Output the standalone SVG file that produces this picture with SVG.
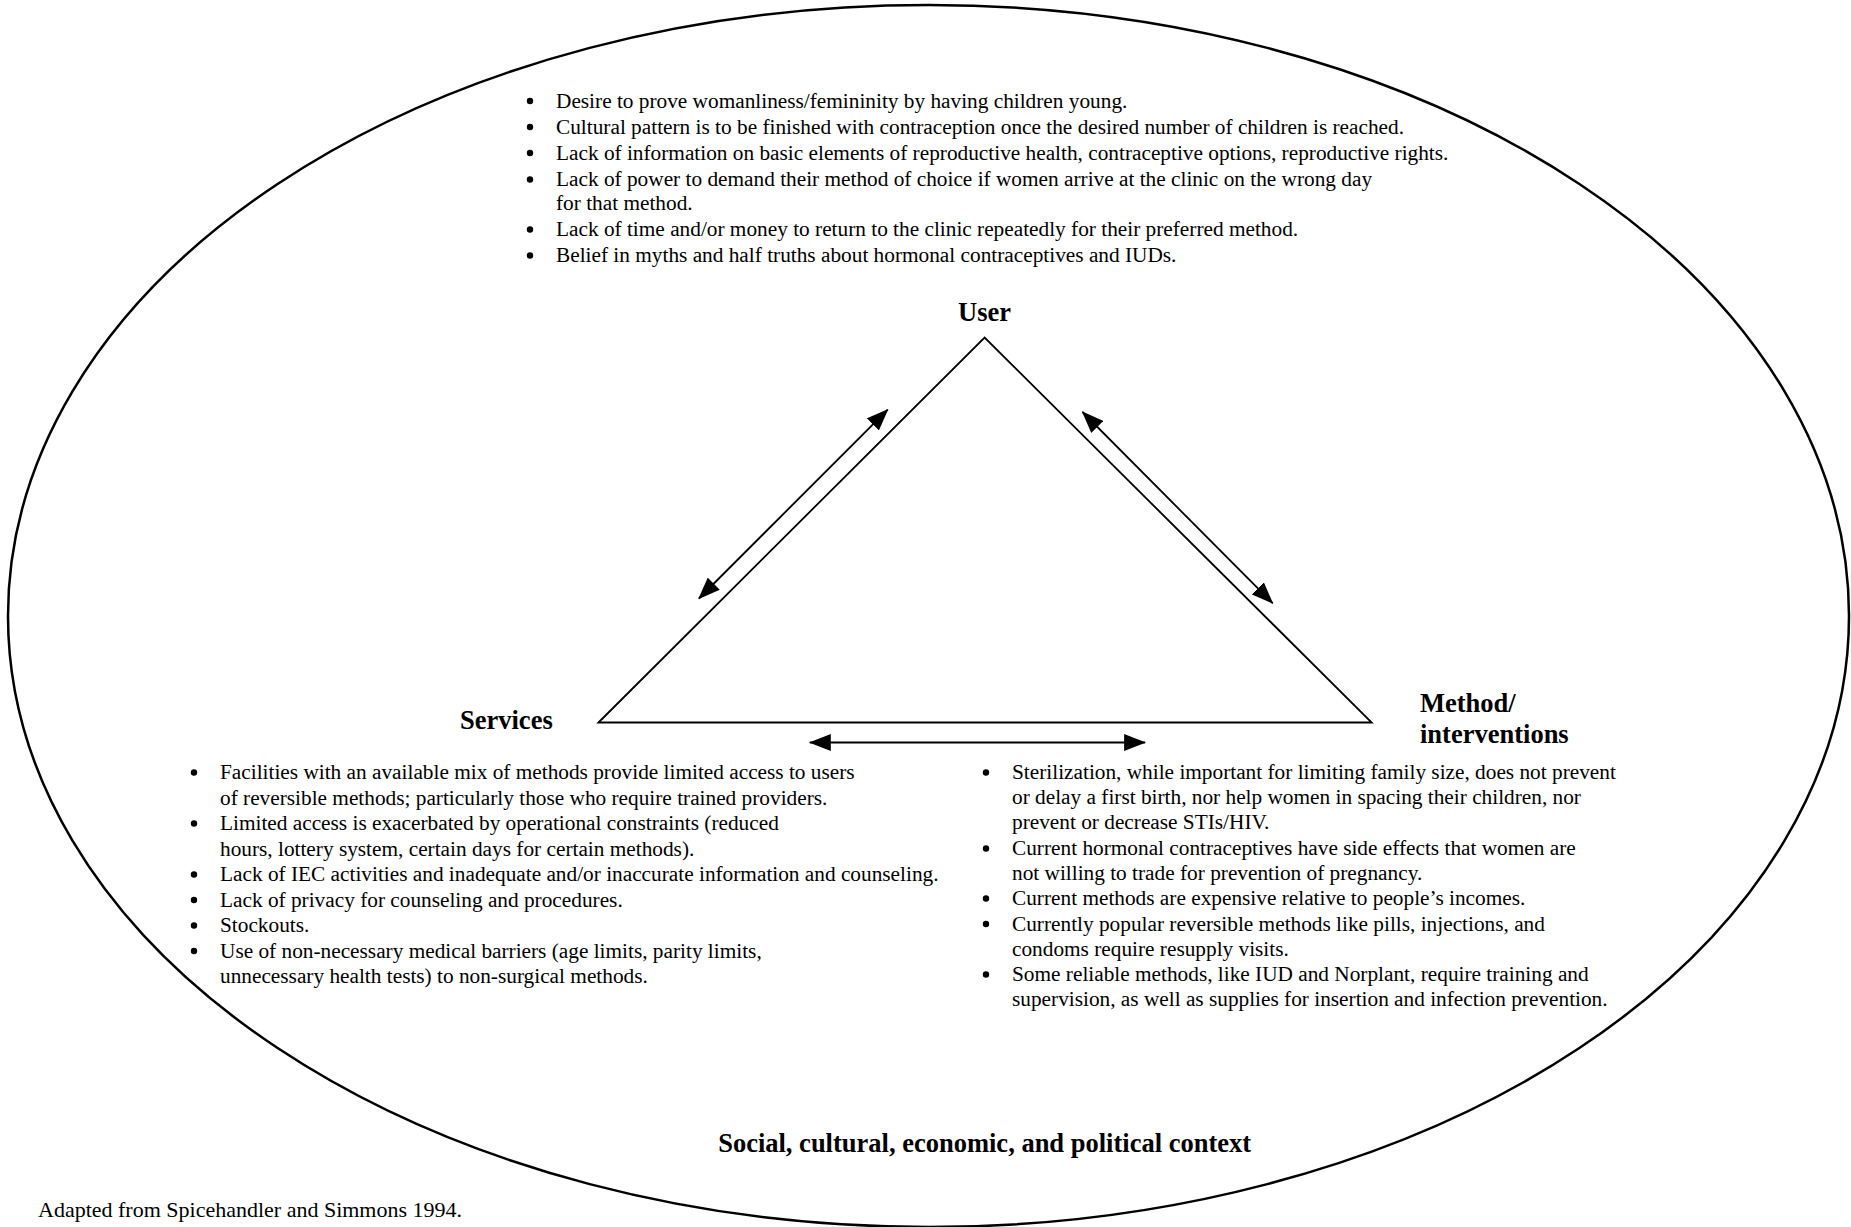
<svg xmlns="http://www.w3.org/2000/svg" width="1851" height="1227" viewBox="0 0 1851 1227">
<style>
.t{font-family:"Liberation Serif","Times New Roman",serif;font-size:21.3px;fill:#000}
.bu circle{fill:#000}
.b{font-family:"Liberation Serif","Times New Roman",serif;font-size:26.5px;font-weight:bold;fill:#000}
.edge{stroke:#000;stroke-width:1.8;fill:none}
.arr{stroke:#000;stroke-width:1.8;fill:none;marker-start:url(#ah);marker-end:url(#ah)}
</style>
<defs>
<marker id="ah" markerUnits="userSpaceOnUse" markerWidth="22" markerHeight="17" viewBox="0 0 22 17" refX="21" refY="8.5" orient="auto-start-reverse">
<path d="M0,0 L22,8.5 L0,17 z" fill="#000"/>
</marker>
</defs>
<rect width="1851" height="1227" fill="#fff"/>
<g id="context">
<ellipse cx="928.5" cy="616" rx="920.5" ry="611" fill="none" stroke="#000" stroke-width="2.5"/>
<text class="b" x="984.6" y="1152" text-anchor="middle">Social, cultural, economic, and political context</text>
</g>
<g id="connectors">
<path class="edge" d="M598.5,722.5 L984.6,337.6 L1371.7,722.5 Z"/>
<line class="arr" x1="887.7" y1="409.6" x2="698.9" y2="598.5"/>
<line class="arr" x1="1082.5" y1="412" x2="1272.6" y2="603.2"/>
<line class="arr" x1="809.8" y1="742.5" x2="1145.1" y2="742.5"/>
</g>
<g id="user">
<text class="b" x="984.6" y="321" text-anchor="middle">User</text>
<g class="bu">
<circle cx="530" cy="101" r="3.2"/>
<circle cx="530" cy="127" r="3.2"/>
<circle cx="530" cy="153" r="3.2"/>
<circle cx="530" cy="179.5" r="3.2"/>
<circle cx="530" cy="229.5" r="3.2"/>
<circle cx="530" cy="255.5" r="3.2"/>
</g>
<g class="t">
<text x="556" y="107.5">Desire to prove womanliness/femininity by having children young.</text>
<text x="556" y="133.5">Cultural pattern is to be finished with contraception once the desired number of children is reached.</text>
<text x="556" y="159.5">Lack of information on basic elements of reproductive health, contraceptive options, reproductive rights.</text>
<text x="556" y="186">Lack of power to demand their method of choice if women arrive at the clinic on the wrong day</text>
<text x="556" y="210">for that method.</text>
<text x="556" y="236">Lack of time and/or money to return to the clinic repeatedly for their preferred method.</text>
<text x="556" y="262">Belief in myths and half truths about hormonal contraceptives and IUDs.</text>
</g>
</g>
<g id="services">
<text class="b" x="460" y="728.5">Services</text>
<g class="bu">
<circle cx="194" cy="772.5" r="3.2"/>
<circle cx="194" cy="823.5" r="3.2"/>
<circle cx="194" cy="874.5" r="3.2"/>
<circle cx="194" cy="900" r="3.2"/>
<circle cx="194" cy="925.5" r="3.2"/>
<circle cx="194" cy="951" r="3.2"/>
</g>
<g class="t">
<text x="220" y="779">Facilities with an available mix of methods provide limited access to users</text>
<text x="220" y="804.5">of reversible methods; particularly those who require trained providers.</text>
<text x="220" y="830">Limited access is exacerbated by operational constraints (reduced</text>
<text x="220" y="855.5">hours, lottery system, certain days for certain methods).</text>
<text x="220" y="881">Lack of IEC activities and inadequate and/or inaccurate information and counseling.</text>
<text x="220" y="906.5">Lack of privacy for counseling and procedures.</text>
<text x="220" y="932">Stockouts.</text>
<text x="220" y="957.5">Use of non-necessary medical barriers (age limits, parity limits,</text>
<text x="220" y="983">unnecessary health tests) to non-surgical methods.</text>
</g>
</g>
<g id="method">
<text class="b" x="1420" y="712">Method/</text>
<text class="b" x="1420" y="742.5">interventions</text>
<g class="bu">
<circle cx="986" cy="772.5" r="3.2"/>
<circle cx="986" cy="848.5" r="3.2"/>
<circle cx="986" cy="898.5" r="3.2"/>
<circle cx="986" cy="924" r="3.2"/>
<circle cx="986" cy="974.5" r="3.2"/>
</g>
<g class="t">
<text x="1012" y="779">Sterilization, while important for limiting family size, does not prevent</text>
<text x="1012" y="804">or delay a first birth, nor help women in spacing their children, nor</text>
<text x="1012" y="829">prevent or decrease STIs/HIV.</text>
<text x="1012" y="855">Current hormonal contraceptives have side effects that women are</text>
<text x="1012" y="880">not willing to trade for prevention of pregnancy.</text>
<text x="1012" y="905">Current methods are expensive relative to people’s incomes.</text>
<text x="1012" y="930.5">Currently popular reversible methods like pills, injections, and</text>
<text x="1012" y="955.5">condoms require resupply visits.</text>
<text x="1012" y="981">Some reliable methods, like IUD and Norplant, require training and</text>
<text x="1012" y="1006">supervision, as well as supplies for insertion and infection prevention.</text>
</g>
</g>
<g id="source">
<text class="t" x="38" y="1217" style="font-size:22px">Adapted from Spicehandler and Simmons 1994.</text>
</g>
</svg>
